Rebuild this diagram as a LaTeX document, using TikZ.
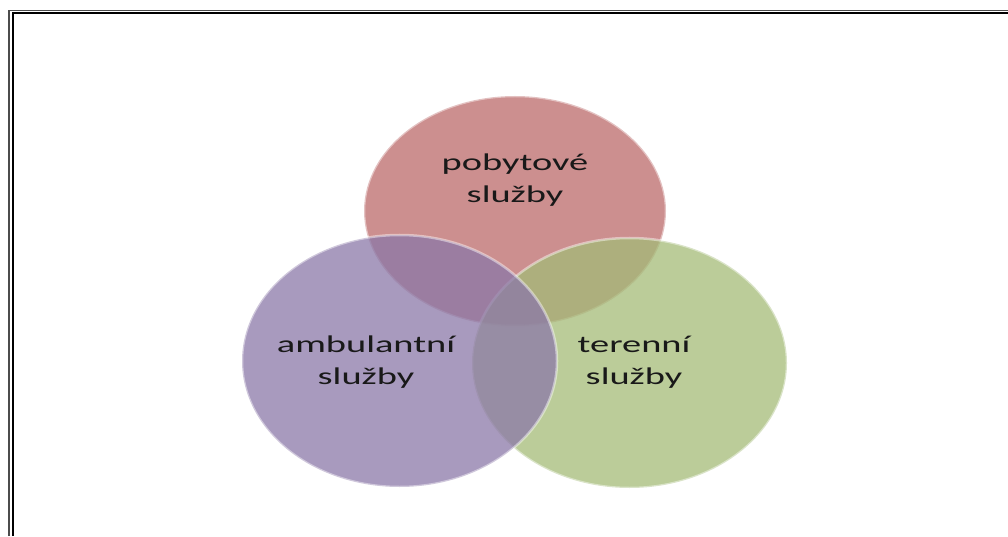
\documentclass[tikz,border=0pt]{standalone}
\usepackage{fontspec}
\setmainfont{Carlito}
\usepackage{tikz}
\usetikzlibrary{shapes.geometric}
\definecolor{pinkc}{RGB}{187,105,105}
\definecolor{purplec}{RGB}{139,120,168}
\definecolor{greenc}{RGB}{164,187,119}
\begin{document}
\begin{tikzpicture}[x=1pt,y=1pt,
  venn/.style={ellipse,inner sep=0pt,fill opacity=0.75,draw=white,draw opacity=0.45,line width=2.5pt},
  vlabel/.style={align=center,font=\fontsize{24}{32}\selectfont,text=black!90,xscale=1.6,transform shape,inner sep=0pt}
]
\useasboundingbox (0,0) rectangle (1008,536);

% frame
\draw[line width=1.5pt,black!70] (9,0) -- (9,525.5) -- (1008,525.5);
\draw[line width=2pt] (13,0) -- (13,523) -- (1008,523);

\node[venn,fill=pinkc,minimum width=302pt,minimum height=230pt] (pobyt) at (515,325) {};
\node[venn,fill=greenc,minimum width=315pt,minimum height=250pt] (teren) at (629.5,173) {};
\node[venn,fill=purplec,minimum width=315pt,minimum height=252pt] (ambul) at (399.5,175) {};

\node[vlabel] (pobytT) at (515,356) {pobytové\\služby};
\node[vlabel] (ambulT) at (366,174) {ambulantní\\služby};
\node[vlabel] (terenT) at (634,174) {terenní\\služby};

\end{tikzpicture}
\end{document}
